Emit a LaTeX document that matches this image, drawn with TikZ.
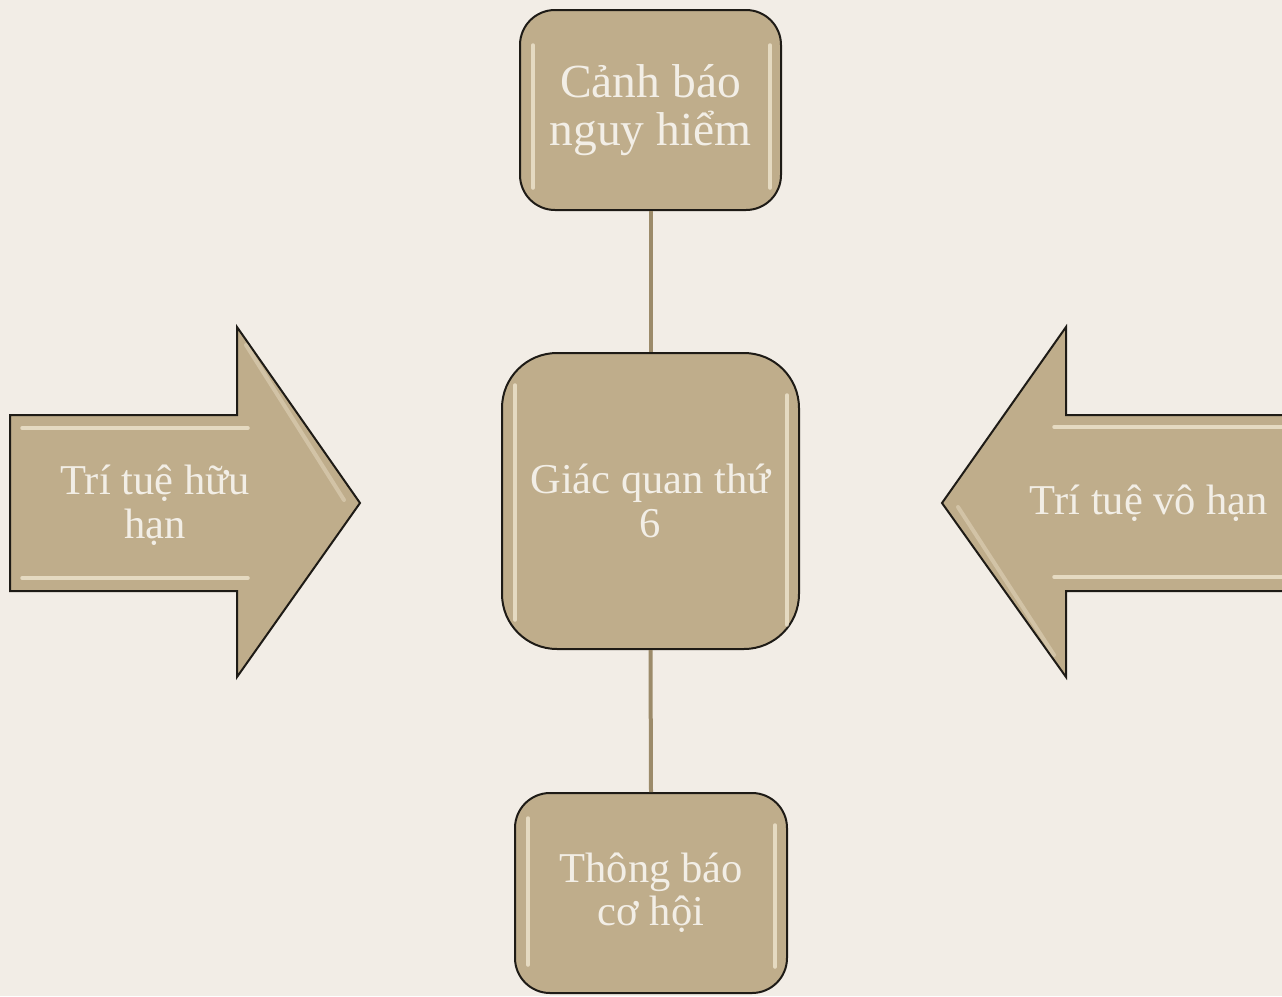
\documentclass[tikz,border=0pt]{standalone}
\usepackage{fontspec}
\setmainfont{Liberation Serif}
\definecolor{bg}{HTML}{F2EDE6}
\definecolor{boxfill}{HTML}{BFAD8B}
\definecolor{txt}{HTML}{F2EEE6}
\definecolor{linkc}{HTML}{9C8B6A}
\definecolor{edge}{HTML}{1E1B16}
\definecolor{shine}{HTML}{FFF8E6}
\begin{document}
\begin{tikzpicture}[x=1pt,y=-1pt,
  box/.style={draw=edge, line width=2pt, fill=boxfill, rounded corners=#1,
              inner sep=0pt, text=txt, align=center},
  lbl/.style={text=txt, align=center, font=\fontsize{42.5}{44}\selectfont},
  arrowshape/.style={draw=edge, line width=2pt, fill=boxfill, line join=miter},
  hl/.style={draw=shine, line width=3.5pt, line cap=round, opacity=0.6},
  hlsoft/.style={draw=shine, line width=4pt, line cap=round, opacity=0.3},
  connector/.style={draw=linkc, line width=4pt}]
\fill[bg] (0,0) rectangle (1282,996);
\useasboundingbox (0,0) rectangle (1282,996);
\begin{scope}
\clip (0,0) rectangle (1282,996);
% arrows
\draw[arrowshape] (10,415) -- (237,415) -- (237,327) -- (360,503) -- (237,677) -- (237,591) -- (10,591) -- cycle;
\draw[arrowshape] (1295,415) -- (1066,415) -- (1066,327) -- (942,503) -- (1066,677) -- (1066,591) -- (1295,591) -- cycle;
% arrow highlights
\draw[hl] (22,428) -- (248,428);
\draw[hl] (22,578) -- (248,578);
\draw[hlsoft] (246,345) -- (344,500);
\draw[hl] (1054,427) -- (1290,427);
\draw[hl] (1054,577) -- (1290,577);
\draw[hlsoft] (958,507) -- (1054,655);
% boxes
\node[box=35pt, minimum width=261pt, minimum height=200pt,
      font=\fontsize{47.5}{48}\selectfont] (warn) at (650.5,110) {\raisebox{-3pt}{Cảnh báo}\\\raisebox{-3pt}{nguy hiểm}};
\node[box=55pt, minimum width=297pt, minimum height=296pt,
      font=\fontsize{42.5}{44}\selectfont] (sense) at (650.5,501) {Giác quan thứ\\6};
\node[box=35pt, minimum width=272pt, minimum height=200pt,
      font=\fontsize{42.5}{43}\selectfont] (chance) at (651,893) {\raisebox{-2pt}{Thông báo}\\\raisebox{-2pt}{cơ hội}};
% box highlights
\draw[hl] (533,45) -- (533,188);
\draw[hl] (770,45) -- (770,188);
\draw[hl] (515,385) -- (515,620);
\draw[hl] (787,395) -- (787,625);
\draw[hl] (528,818) -- (528,965);
\draw[hl] (775,825) -- (775,967);
% arrow labels
\node[lbl] (finite) at (155,505) {Trí tuệ hữu\\hạn};
\node[lbl] (infinite) at (1149,503) {Trí tuệ vô hạn};
% connectors
\draw[connector] (warn.south) -- (sense.north);
\draw[connector] (sense.south) -- (chance.north);
\end{scope}
\end{tikzpicture}
\end{document}
